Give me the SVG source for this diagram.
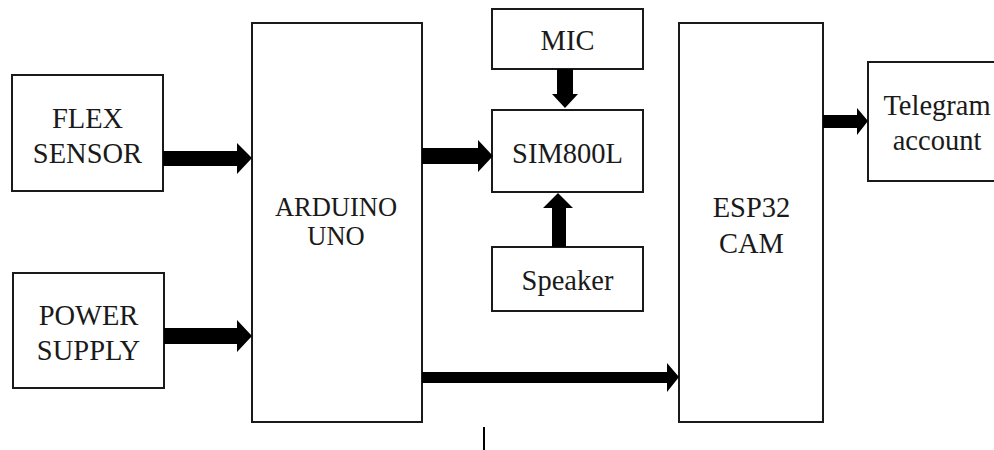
<svg xmlns="http://www.w3.org/2000/svg" width="994" height="450" viewBox="0 0 994 450">
<style>
.box{fill:#fff;stroke:#1a1a1a;stroke-width:2}
.arr{fill:#000}
text{font-family:'Liberation Serif','DejaVu Serif',serif;font-size:28.5px;fill:#1a1a1a;text-anchor:middle}
</style>
<rect width="994" height="450" fill="#fff"/>
<g id="flex"><rect class="box" x="12" y="75" width="151" height="116"/><text x="87.5" y="128">FLEX</text><text x="87.5" y="163">SENSOR</text></g>
<g id="power"><rect class="box" x="13" y="273" width="151" height="115"/><text x="88.5" y="325">POWER</text><text x="88.5" y="360">SUPPLY</text></g>
<g id="arduino"><rect class="box" x="252" y="23" width="170" height="399"/><text x="336" y="216" style="font-size:26.5px">ARDUINO</text><text x="336" y="245" style="font-size:26.5px">UNO</text></g>
<g id="mic"><rect class="box" x="492" y="9" width="151" height="60"/><text x="567.5" y="50">MIC</text></g>
<g id="sim"><rect class="box" x="492" y="110" width="151" height="82"/><text x="567.5" y="163">SIM800L</text></g>
<g id="speaker"><rect class="box" x="492" y="247" width="151" height="64"/><text x="567.5" y="290">Speaker</text></g>
<g id="esp"><rect class="box" x="679" y="23" width="144" height="399"/><text x="751.5" y="217">ESP32</text><text x="751.5" y="253">CAM</text></g>
<g id="telegram"><rect class="box" x="868" y="62" width="140" height="119"/><text x="937" y="115">Telegram</text><text x="937" y="150">account</text></g>
<g id="connectors">
<polygon class="arr" points="163,151 237,151 237,143 252,158 237,174 237,166 163,166"/>
<polygon class="arr" points="164,328 237,328 237,320 252,336 237,352 237,344 164,344"/>
<polygon class="arr" points="422,148 478,148 478,140 493,156 478,172 478,164 422,164"/>
<polygon class="arr" points="557,69 573,69 573,94 578,94 565,108 552,94 557,94"/>
<polygon class="arr" points="552,247 566,247 566,208 573,208 558,193 543,208 552,208"/>
<polygon class="arr" points="823,115 857,115 857,108 868,121 857,135 857,128 823,128"/>
<polygon class="arr" points="422,372 667,372 667,363 679,377 667,392 667,383 422,383"/>
</g>
<line x1="484" y1="427" x2="484" y2="450" stroke="#000" stroke-width="2"/>
</svg>
